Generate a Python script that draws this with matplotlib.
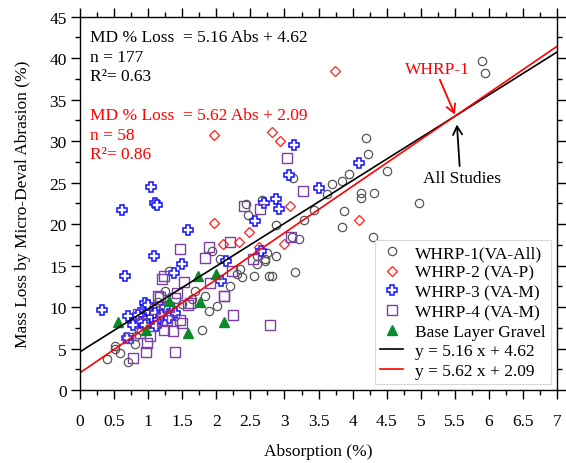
import numpy as np
import matplotlib
matplotlib.use('Agg')
import matplotlib.pyplot as plt
from matplotlib.ticker import MultipleLocator, FormatStrFormatter

plt.rcParams['font.family'] = ['Liberation Serif', 'DejaVu Serif']

# WHRP-1 (VA-All)
w1_x = [5.90, 5.94, 4.20, 4.22, 3.95, 3.85, 4.50, 4.12, 4.12, 4.32, 4.97, 3.70,
        3.63, 3.43, 3.28, 3.88, 3.85, 4.30, 2.87, 3.11, 3.22, 3.13, 2.75, 2.87,
        2.72, 2.82, 3.16, 2.44, 2.47, 1.94, 2.06, 2.35, 2.38, 2.59, 2.72, 2.78,
        1.84, 2.01, 2.67, 1.30, 0.51, 0.81, 0.39, 0.51, 0.59, 0.70, 0.82, 1.79,
        1.40, 1.64, 1.69, 1.00, 1.10, 1.20, 0.90, 1.05, 1.35, 1.50, 2.20, 2.30,
        1.90, 2.55, 2.60, 1.15, 0.95, 1.25]
w1_y = [39.7, 38.2, 30.4, 28.5, 26.0, 25.2, 26.4, 23.8, 23.1, 23.7, 22.5, 24.8,
        23.6, 21.7, 20.5, 21.6, 19.6, 18.4, 19.9, 18.5, 18.2, 25.5, 16.5, 16.2,
        15.6, 13.8, 14.2, 22.4, 21.1, 16.8, 15.8, 14.6, 13.6, 15.2, 15.8, 13.7,
        11.3, 10.1, 22.9, 14.4, 5.3, 5.5, 3.7, 5.0, 4.5, 3.4, 6.5, 7.3,
        8.9, 11.0, 11.9, 8.0, 8.7, 9.5, 7.2, 10.0, 9.8, 10.4, 12.5, 14.0,
        9.5, 13.8, 16.2, 10.6, 8.4, 12.0]

# WHRP-2 (VA-P)
w2_x = [1.96, 2.82, 2.93, 3.74, 1.97, 2.48, 2.34, 2.10, 3.08, 3.00, 4.09, 2.62]
w2_y = [30.7, 31.1, 30.0, 38.5, 20.1, 19.0, 17.8, 17.6, 22.2, 17.6, 20.5, 17.3]

# WHRP-3 (VA-M)
w3_x = [0.61, 1.04, 1.10, 1.13, 1.58, 1.09, 1.49, 1.38, 0.66, 2.07, 2.14, 0.32,
        0.96, 0.93, 0.71, 0.69, 1.40, 2.70, 2.57, 2.65, 3.14, 3.06, 3.51, 2.87,
        2.92, 4.10, 0.80, 0.85, 0.90, 1.00, 1.05, 1.10, 1.15, 1.20, 1.30, 0.95,
        1.25, 1.00, 0.78, 1.12]
w3_y = [21.7, 24.5, 22.6, 22.3, 19.3, 16.2, 15.2, 14.1, 13.7, 13.1, 15.6, 9.7,
        10.5, 9.7, 8.9, 6.3, 9.3, 22.6, 20.4, 16.8, 29.5, 25.9, 24.3, 23.0,
        21.8, 27.4, 8.5, 9.0, 8.2, 9.5, 8.8, 9.3, 8.5, 9.0, 8.7, 7.8,
        10.0, 10.2, 7.9, 7.7]

# WHRP-4 (VA-M)
w4_x = [3.03, 3.27, 3.09, 2.64, 2.40, 2.54, 2.20, 1.89, 1.84, 2.23, 1.91, 2.11,
        1.47, 1.52, 1.62, 1.20, 1.23, 1.15, 1.42, 1.59, 1.18, 1.40, 0.71, 1.03,
        1.23, 1.47, 1.27, 0.98, 2.25, 2.12, 1.36, 0.97, 0.78, 1.40, 0.88, 1.50,
        1.20, 0.91, 2.79, 1.10, 0.85, 1.30]
w4_y = [28.0, 24.0, 18.5, 21.8, 22.2, 15.8, 17.8, 17.2, 15.9, 14.4, 12.9, 11.3,
        17.0, 13.0, 10.5, 13.4, 13.7, 11.4, 11.7, 10.2, 11.2, 11.1, 6.3, 6.5,
        7.3, 8.5, 8.5, 5.7, 9.0, 11.4, 7.1, 4.6, 3.9, 4.6, 6.9, 8.1,
        8.3, 8.1, 7.9, 9.8, 9.2, 10.0]

# Base layer gravel
bg_x = [0.56, 0.97, 1.31, 1.76, 1.58, 2.12, 1.73, 2.00]
bg_y = [8.2, 7.2, 10.7, 10.6, 6.9, 8.2, 13.8, 14.0]

# regressions: all studies / WHRP-1
all_slope, all_icpt = 5.16, 4.62
w1_slope, w1_icpt = 5.62, 2.09

fig = plt.figure(figsize=(5.66, 4.64), dpi=100)
ax = fig.add_axes([0.1413, 0.157, 0.843, 0.805])

ax.plot(w1_x, w1_y, 'o', ms=6, mfc='none', mec='#555555', mew=0.9,
        label='WHRP-1(VA-All)')
ax.plot(w2_x, w2_y, 'D', ms=5.5, mfc='none', mec='#ff2020', mew=0.9,
        label='WHRP-2 (VA-P)')
ax.plot(w3_x, w3_y, 'P', ms=7.5, mfc='white', mec='#1010ff', mew=1.1,
        label='WHRP-3 (VA-M)')
ax.plot(w4_x, w4_y, 's', ms=7.3, mfc='none', mec='#7a40a8', mew=1.0,
        label='WHRP-4 (VA-M)')
ax.plot(bg_x, bg_y, '^', ms=7, color='#0a8a2a', mec='#0a8a2a',
        label='Base Layer Gravel')

xx = np.array([0, 7])
ax.plot(xx, all_slope * xx + all_icpt, color='black', lw=1.2,
        label='y = 5.16 x + 4.62')
ax.plot(xx, w1_slope * xx + w1_icpt, color='red', lw=1.2,
        label='y = 5.62 x + 2.09')

ax.set_xlim(0, 7)
ax.set_ylim(0, 45)
ax.xaxis.set_major_locator(MultipleLocator(0.5))
ax.xaxis.set_minor_locator(MultipleLocator(0.25))
ax.yaxis.set_major_locator(MultipleLocator(5))
ax.yaxis.set_minor_locator(MultipleLocator(2.5))
ax.xaxis.set_major_formatter(FormatStrFormatter('%g'))
ax.tick_params(which='both', direction='out', top=True, right=True,
               labeltop=False, labelright=False, labelsize=12.5)
ax.tick_params(which='major', length=6.5, width=1)
ax.tick_params(which='minor', length=3.8, width=1)
ax.tick_params(axis='x', which='major', pad=10)
ax.tick_params(axis='y', which='major', pad=3)
for s in ax.spines.values():
    s.set_linewidth(1)

ax.set_xlabel('Absorption (%)', fontsize=12.5, labelpad=10)
ax.set_ylabel('Mass Loss by Micro-Deval Abrasion (%)', fontsize=12.5, labelpad=13)

# equation boxes
fs = 12.5
ax.text(0.15, 42.5, 'MD % Loss  = 5.16 Abs + 4.62', fontsize=fs, va='center')
ax.text(0.15, 40.1, 'n = 177', fontsize=fs, va='center')
ax.text(0.15, 37.8, 'R²= 0.63', fontsize=fs, va='center')
ax.text(0.15, 33.1, 'MD % Loss  = 5.62 Abs + 2.09', fontsize=fs, va='center', color='red')
ax.text(0.15, 30.7, 'n = 58', fontsize=fs, va='center', color='red')
ax.text(0.15, 28.4, 'R²= 0.86', fontsize=fs, va='center', color='red')

# labels with arrows pointing to where the two fits cross
ax.text(5.24, 38.7, 'WHRP-1', color='red', fontsize=fs, ha='center', va='center')
ax.annotate('', xy=(5.5, 33.2), xytext=(5.28, 37.4),
            arrowprops=dict(arrowstyle='->,head_length=0.6,head_width=0.33',
                            color='red', lw=1.3, shrinkA=0, shrinkB=0))
ax.text(5.61, 25.6, 'All Studies', color='black', fontsize=fs, ha='center', va='center')
ax.annotate('', xy=(5.53, 32.0), xytext=(5.57, 27.0),
            arrowprops=dict(arrowstyle='->,head_length=0.6,head_width=0.33',
                            color='black', lw=1.3, shrinkA=0, shrinkB=0))

leg = ax.legend(loc='lower right', fontsize=12.5, frameon=True, fancybox=False,
                edgecolor='#d0d0d0', handlelength=1.3, handletextpad=0.7,
                borderpad=0.3, labelspacing=0.2, borderaxespad=0.35)
leg.get_frame().set_linewidth(0.8)

fig.savefig('out.png', dpi=100)
